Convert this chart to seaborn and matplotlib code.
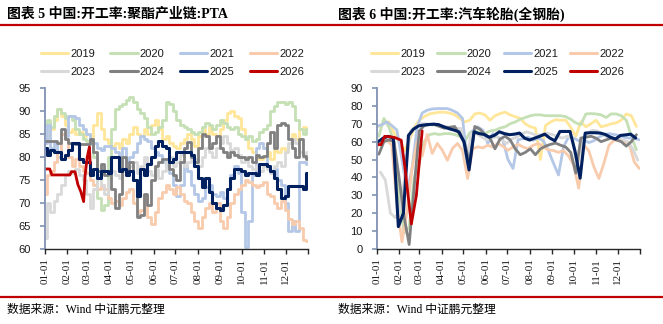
import numpy as np
import pandas as pd
import matplotlib
matplotlib.use("Agg")
import matplotlib.pyplot as plt
from matplotlib.lines import Line2D
import seaborn as sns

sns.set_style("white")
plt.rcParams['font.family'] = ['Liberation Sans', 'Noto Sans CJK SC', 'DejaVu Sans']

# ---------------- data ----------------
years = ['2019', '2020', '2021', '2022', '2023', '2024', '2025', '2026']
colors = ['#FFE699', '#C5E0B4', '#B4C7E7', '#F8CBAD', '#D9D9D9', '#808080', '#002060', '#C00000']

month_ticks = [0, 31, 59, 90, 120, 151, 181, 212, 243, 273, 304, 334, 365]
month_labels = ['01-01', '02-01', '03-01', '04-01', '05-01', '06-01', '07-01',
                '08-01', '09-01', '10-01', '11-01', '12-01', '']

# Left chart: PTA operating rate (%), sampled every 5 days
pta_days = list(range(0, 366, 5))
pta_2019 = [85, 84, 86, 88, 90.5, 89, 87, 85.5, 86, 85,
            85.5, 84.5, 85, 84, 87, 89.5, 86, 84, 83, 82.5,
            83, 82, 84, 83, 85, 86.5, 85, 84.5, 86, 85,
            87, 88, 86, 84, 84.5, 83, 82.5, 82, 83, 84,
            85, 84, 82.5, 84.5, 86, 85, 86.5, 85, 84.5, 86,
            88, 89.5, 90, 89, 88.5, 86, 84, 82, 81, 80,
            79.5, 80, 81, 79.5, 81.5, 81, 82, 81, 83, 85,
            84, 86, 86.5, 86]
pta_2020 = [87, 88, 86.5, 89, 90.5, 89.5, 88.5, 89, 88, 86,
            85, 84, 83.5, 84, 80, 71, 68.5, 69.5, 80, 86,
            90.5, 91, 91.5, 92.5, 93, 92, 90.5, 89.5, 88.5, 86.5,
            85, 85.5, 86.5, 88, 92, 91.5, 90, 88, 87, 86.5,
            86, 85.5, 85, 85.5, 86.5, 87.5, 87, 86, 87, 88,
            87.5, 86.5, 86, 86.5, 85, 84.5, 84, 84.5, 83.5, 84,
            85.5, 86, 87, 90, 91, 92, 92, 91.5, 92, 91,
            88, 86, 85, 86]
pta_2021 = [83, 87, 82, 83, 80, 85, 84.5, 89, 89, 88.5,
            87, 86, 85, 84, 83, 82, 81.5, 82.5, 82.5, 82,
            81, 80, 82, 79, 80, 81, 83, 84.5, 84, 83.5,
            82, 81, 80.5, 79, 78, 76.5, 74, 71.5, 74, 78,
            77, 74, 72, 70.5, 71, 73.5, 74, 72, 71.5, 72.5,
            71, 73, 76, 78, 76.5, 68, 60.5, 66, 76, 82,
            83, 82, 78, 77, 77.5, 75, 74, 70, 64, 66,
            64, 79, 79, 78.5]
pta_2022 = [72, 76, 77, 79, 81, 85, 84, 80, 78, 79.5,
            78, 77, 76.5, 75, 74, 73, 74, 73, 71, 70,
            70.5, 69.5, 71, 72.5, 73, 70, 68, 68.5, 71.5, 67,
            65.5, 68, 71, 72.5, 74, 73, 72, 73.5, 72, 70.5,
            70, 68, 66, 64.5, 67, 69, 70, 68, 70, 66,
            64.5, 67, 70, 72, 73, 74, 75, 74.5, 74, 73.5,
            74, 74.5, 72, 71.5, 70, 69, 70.5, 68.5, 66.5, 65.5,
            66, 64.5, 62, 61.8]
pta_2023 = [62.5, 70, 68, 70.5, 72, 74, 76, 77, 76.5, 77.5,
            76, 75, 72, 69, 73, 76, 74, 72, 75, 77,
            76, 75.5, 77, 76, 78, 79, 76.5, 78, 80, 77,
            76, 77.5, 75.5, 77, 79, 80, 78, 79, 80.5, 78,
            79, 80, 79.5, 78, 80, 82, 81, 80, 82, 83,
            84.5, 83, 81.5, 82, 80.5, 79, 80, 78, 77.5, 78,
            77, 78, 77.5, 76.5, 78, 79, 78, 81, 83, 84,
            83, 81, 80, 81]
pta_2024 = [83.5, 83.5, 83.5, 83.5, 83, 86, 84, 83, 83, 82.8,
            82.8, 82.8, 82.8, 84, 81, 77, 78.5, 76, 77, 73,
            69, 72, 80, 77, 79, 75, 67, 67.5, 72, 69.5,
            75, 78, 79, 79.5, 79.5, 77.5, 76, 75, 79, 82,
            83.3, 80, 79, 82, 85, 84.5, 82, 83, 84.5, 82,
            81, 80, 81, 80.5, 80, 80, 79.5, 80, 79, 80.5,
            80, 80.3, 83, 85.5, 82, 87, 87.5, 87, 84, 82,
            80, 84, 80.3, 79.5]
pta_2025 = [82, 80.5, 81.5, 81, 81, 79.5, 80.5, 81.5, 83, 83,
            79.5, 79, 79, 76, 77.5, 75.5, 77, 77, 76.5, 80,
            80, 77, 77.5, 76, 77, 75, 71.5, 77.5, 76, 78.5,
            80, 82.5, 83.5, 82.5, 82, 79, 79.5, 81, 81, 81,
            81, 80.5, 78, 75.5, 73.5, 75.5, 72.5, 70, 69, 68.5,
            69.5, 73, 75.5, 77.5, 77.5, 77, 76, 76.5, 76.5, 76,
            78.5, 78.5, 78, 77, 75.5, 73, 71, 71.5, 73.7, 73.7,
            73.7, 73.7, 73, 76.5]
pta_2026_days = [0, 7, 10, 35, 37, 42, 46, 50, 54, 56, 59, 62, 63]
pta_2026 = [77.4, 77.4, 76.1, 76.1, 76.8, 76.8, 74, 72.5, 70.3, 76, 80, 82.2, 78.6]

# Right chart: all-steel tyre operating rate (%), weekly
tyre_2019_days = list(range(3, 361, 7))
tyre_2019 = [68.5, 70.5, 71, 65, 60, 55, 60, 68, 72, 74,
             75.5, 76, 76.5, 76.5, 76, 75, 73, 71, 72, 75.5,
             76, 75, 72, 74.5, 75.7, 76.5, 75, 74, 73, 70,
             68.3, 67.6, 50, 69, 71, 72.3, 72, 72, 68, 63,
             71, 68.3, 70, 72, 68.3, 69, 70, 70.5, 72, 75.5,
             74.5, 68.5]
tyre_2020_days = list(range(3, 361, 7))
tyre_2020 = [63, 73, 68, 60, 30, 9, 12, 40, 48, 60,
             63.9, 64.5, 64, 64.5, 64.5, 64, 63, 60, 65, 66.4,
             65, 64.5, 66, 66.4, 67.6, 68.3, 70, 71, 72.5, 73.5,
             74.5, 75, 75, 74.5, 74.5, 74.5, 74.5, 74, 72.5, 70.5,
             69.5, 75.5, 75.7, 75.5, 75, 73.5, 75.5, 75.5, 74.5, 72,
             63, 55.5]
tyre_2021_days = list(range(0, 365, 7))
tyre_2021 = [68.5, 69.5, 71, 69, 66.5, 50, 32, 45, 68, 76,
             77.6, 78.3, 78.5, 78.5, 78.5, 77.5, 76, 73, 47, 66,
             68.3, 66.4, 59, 64.5, 62.5, 60.8, 50, 45, 61, 61.7,
             62.5, 60.8, 62, 60.5, 55, 48, 41.4, 57.1, 62.7, 62,
             60.5, 61, 59.5, 60.5, 62.5, 64, 64.5, 64, 63.5, 62.5,
             62, 62, 61]
tyre_2022_days = list(range(0, 365, 7))
tyre_2022 = [57, 60, 61, 58, 25, 4, 21, 45, 60, 52,
             64, 53.4, 59, 55.2, 49.6, 56.2, 59, 55, 39.4, 56,
             57.1, 56.5, 58, 57, 59, 57.5, 55.2, 57, 58.5, 57,
             56, 58, 59, 57, 55.5, 55, 54, 55, 52, 47,
             34, 58, 55, 46, 39.4, 48, 58, 60.8, 61, 60,
             59, 48.7, 45]
tyre_2023_days = list(range(5, 363, 7))
tyre_2023 = [43, 38.5, 20, 17.5, 23, 45, 66, 68.3, 70, 70,
             69.5, 69.5, 69, 68.5, 68, 67.5, 67.3, 49.6, 64.5, 64.5,
             62.7, 61, 62, 62.7, 61, 59, 61.5, 62.5, 64.5, 65.5,
             64.5, 63.5, 64, 64.8, 64, 63, 62, 63, 62, 45.2,
             62, 64.5, 66.4, 66, 64, 62.5, 61.7, 61.7, 61, 60,
             56, 49.6]
tyre_2024_days = list(range(3, 361, 7))
tyre_2024 = [53, 60, 61, 60, 40, 18, 2.5, 35, 66, 69,
             69.5, 69.5, 68.5, 67.5, 68, 68.5, 64, 59, 48, 68.5,
             67, 64, 62, 56, 61.5, 63, 61, 56, 52.7, 54,
             56, 52.7, 56, 57.5, 58.5, 59.2, 58, 57, 54, 42.4,
             62, 62.5, 63, 62, 60, 61, 62, 61, 60, 57.5,
             60, 63.9]
tyre_2025_days = list(range(2, 360, 7))
tyre_2025 = [60, 62, 63, 62, 12.5, 20, 63.5, 67, 68.8, 69.3,
             69.6, 69.8, 69.5, 68.3, 67.3, 66.5, 65.5, 60, 44.2, 65.5,
             64.5, 64, 62.5, 63.5, 65.5, 64.5, 63.9, 64.2, 64.8, 62,
             60.9, 62, 63, 64.2, 62, 60.5, 65.7, 65.7, 65.7, 54.5,
             39.6, 64.8, 65, 65, 64.8, 64, 62.5, 61.5, 63.5, 63.8,
             64.2, 62]
tyre_2026_days = [0, 6, 11, 18, 25, 34, 39, 48, 55, 63]
tyre_2026 = [58.5, 58.3, 63, 62.8, 62.3, 60.8, 46, 14, 30, 66]

pta_series = [(pta_days, pta_2019), (pta_days, pta_2020), (pta_days, pta_2021),
              (pta_days, pta_2022), (pta_days, pta_2023), (pta_days, pta_2024),
              (pta_days, pta_2025), (pta_2026_days, pta_2026)]
tyre_series = [(tyre_2019_days, tyre_2019), (tyre_2020_days, tyre_2020),
               (tyre_2021_days, tyre_2021), (tyre_2022_days, tyre_2022),
               (tyre_2023_days, tyre_2023), (tyre_2024_days, tyre_2024),
               (tyre_2025_days, tyre_2025), (tyre_2026_days, tyre_2026)]

# ---------------- figure ----------------
W, H = 663, 324
fig = plt.figure(figsize=(W / 100, H / 100), dpi=100)

def fx(px):
    return px / W

def fy(py):
    return 1 - py / H

CJK_SERIF = ['Liberation Serif', 'Noto Sans CJK SC']

def draw_panel(left_px, series, ylim, yticks, title, title_x, leg_x, colspace, stepped):
    ax = fig.add_axes([fx(left_px), fy(249), 263.3 / W, 161 / H])
    handles = []
    for (d, v), yr, c in zip(series, years, colors):
        df = pd.DataFrame({'day': d, 'rate': v})
        lw = 2.2 if yr == '2025' else 2.0
        ds = 'steps-mid' if (stepped and yr != '2026') else 'default'
        sns.lineplot(data=df, x='day', y='rate', ax=ax, color=c, linewidth=lw,
                     estimator=None, sort=False, legend=False, drawstyle=ds)
        handles.append(Line2D([], [], color=c, lw=2.2, label=yr))
    ax.set_xlim(0, 365)
    ax.set_ylim(*ylim)
    ax.set_yticks(yticks)
    ax.set_yticklabels([str(t) for t in yticks], fontsize=8,
                       family='Liberation Sans', color='#1a1a1a')
    ax.set_xticks(month_ticks)
    ax.set_xticklabels(month_labels, rotation=90, fontsize=8,
                       family='Liberation Serif', color='#1a1a1a')
    ax.set_xlabel('')
    ax.set_ylabel('')
    for s in ('top', 'right'):
        ax.spines[s].set_visible(False)
    ax.spines['left'].set_color('#7F91B2')
    ax.spines['left'].set_linewidth(1.3)
    ax.spines['bottom'].set_color('#262626')
    ax.spines['bottom'].set_linewidth(1.0)
    ax.tick_params(axis='y', direction='out', length=3.5, width=1.2,
                   color='#7F91B2', pad=6.5, left=True)
    ax.tick_params(axis='x', direction='out', length=3.5, width=1.0,
                   color='#262626', pad=3, bottom=True)
    ax.grid(False)
    ax.set_facecolor('white')
    order = [0, 4, 1, 5, 2, 6, 3, 7]
    leg = ax.legend([handles[i] for i in order], [years[i] for i in order],
                    ncol=4, frameon=False, loc='center left',
                    bbox_to_anchor=(fx(leg_x), fy(63.2)), bbox_transform=fig.transFigure,
                    borderpad=0, borderaxespad=0, handlelength=2.45, handletextpad=0.2,
                    columnspacing=colspace, labelspacing=0.75,
                    prop={'family': 'Liberation Sans', 'size': 8})
    for t in leg.get_texts():
        t.set_color('#1a1a1a')
    fig.text(fx(title_x), fy(14), title, fontsize=10, fontweight='bold',
             family=CJK_SERIF, ha='left', va='center', color='black')
    fig.text(fx(title_x), fy(310), '数据来源：Wind 中证鹏元整理', fontsize=8.5,
             family=CJK_SERIF, ha='left', va='center', color='black')
    return ax

draw_panel(44.7, pta_series, (60, 95), [60, 65, 70, 75, 80, 85, 90, 95],
           '图表 5 中国:开工率:聚酯产业链:PTA', 7, 40.7, 1.38, True)
draw_panel(376.7, tyre_series, (0, 90), [0, 10, 20, 30, 40, 50, 60, 70, 80, 90],
           '图表 6 中国:开工率:汽车轮胎(全钢胎)', 338.3, 371, 1.08, False)

for yy in (25, 297):
    fig.add_artist(Line2D([0, 1], [fy(yy), fy(yy)], transform=fig.transFigure,
                          color='#C00000', lw=1.6))

fig.savefig('out.png', dpi=100, facecolor='white')
